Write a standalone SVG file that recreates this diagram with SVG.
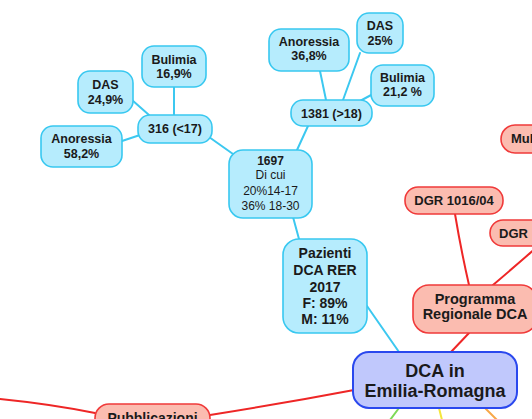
<svg xmlns="http://www.w3.org/2000/svg" width="532" height="419" viewBox="0 0 532 419">
<style>
  .cy rect{fill:#b6ecfd;stroke:#38c8f0;stroke-width:1.6}
  .rd rect{fill:#fbbcb0;stroke:#f03a3a;stroke-width:1.6}
  .ct rect{fill:#c0c8fc;stroke:#2a48ee;stroke-width:2}
  text{font-family:"Liberation Sans",Arial,sans-serif;fill:#1a1a1a;text-anchor:middle}
  .b{font-weight:bold}
  .s{font-size:12.5px;font-weight:bold}
  .n{font-size:12px}
  .c{fill:none;stroke-width:2;stroke-linecap:round}
  .lc{stroke:#3cc8f0}
  .lr{stroke:#ee2626}
</style>
<g id="connectors">
  <line class="c lc" x1="174" y1="87" x2="174" y2="115"/>
  <line class="c lc" x1="132" y1="100" x2="149" y2="115"/>
  <line class="c lc" x1="122" y1="141" x2="140" y2="135"/>
  <line class="c lc" x1="209" y1="137" x2="233" y2="154"/>
  <line class="c lc" x1="320" y1="71" x2="326" y2="100"/>
  <line class="c lc" x1="360" y1="53" x2="343" y2="100"/>
  <line class="c lc" x1="373" y1="94" x2="360" y2="101"/>
  <line class="c lc" x1="308" y1="126" x2="297" y2="150"/>
  <line class="c lc" x1="293" y1="217" x2="299" y2="239"/>
  <line class="c lc" x1="367" y1="306" x2="399" y2="352"/>
  <path class="c lr" d="M455,214 Q461,250 469,285"/>
  <path class="c lr" d="M545,240 Q520,262 493,285"/>
  <line class="c lr" x1="469" y1="333" x2="451" y2="352"/>
  <path class="c lr" d="M354,390 Q280,404 210,415"/>
  <path class="c lr" d="M0,399 Q50,404 95,413"/>
  <line class="c" stroke="#7ed957" x1="399" y1="408" x2="390" y2="420"/>
  <line class="c" stroke="#f4e63c" x1="439" y1="408" x2="442" y2="420"/>
  <line class="c" stroke="#f7a848" x1="485" y1="408" x2="497" y2="420"/>
</g>
<g id="n-bulimia-17" class="cy">
  <rect x="142" y="46" width="64" height="41" rx="12"/>
  <text class="s" x="174" y="64">Bulimia</text>
  <text class="s" x="174" y="78">16,9%</text>
</g>
<g id="n-das-17" class="cy">
  <rect x="78" y="71" width="55" height="42" rx="12"/>
  <text class="s" x="105.5" y="89">DAS</text>
  <text class="s" x="105.5" y="104">24,9%</text>
</g>
<g id="n-anoressia-17" class="cy">
  <rect x="41" y="126" width="81" height="41" rx="12"/>
  <text class="s" x="81.5" y="143">Anoressia</text>
  <text class="s" x="81.5" y="158">58,2%</text>
</g>
<g id="n-316" class="cy">
  <rect x="138" y="115" width="74" height="28" rx="12"/>
  <text class="s" x="175" y="133">316 (&lt;17)</text>
</g>
<g id="n-anoressia-18" class="cy">
  <rect x="269" y="29" width="80" height="42" rx="12"/>
  <text class="s" x="309" y="46">Anoressia</text>
  <text class="s" x="309" y="60">36,8%</text>
</g>
<g id="n-das-18" class="cy">
  <rect x="357" y="13" width="46" height="40" rx="12"/>
  <text class="s" x="380" y="30">DAS</text>
  <text class="s" x="380" y="45">25%</text>
</g>
<g id="n-bulimia-18" class="cy">
  <rect x="371" y="65" width="63" height="41" rx="12"/>
  <text class="s" x="402.5" y="82">Bulimia</text>
  <text class="s" x="402.5" y="96">21,2 %</text>
</g>
<g id="n-1381" class="cy">
  <rect x="291" y="100" width="81" height="26" rx="12"/>
  <text class="s" x="331.5" y="118">1381 (&gt;18)</text>
</g>
<g id="n-1697" class="cy">
  <rect x="229" y="150" width="83" height="68" rx="14"/>
  <text class="n b" x="270.5" y="165">1697</text>
  <text class="n" x="270.5" y="179">Di cui</text>
  <text class="n" x="270.5" y="195">20%14-17</text>
  <text class="n" x="270.5" y="210">36% 18-30</text>
</g>
<g id="n-pazienti" class="cy">
  <rect x="283" y="239" width="84" height="94" rx="16"/>
  <text class="b" font-size="14" x="325" y="258">Pazienti</text>
  <text class="b" font-size="14" x="325" y="275">DCA RER</text>
  <text class="b" font-size="14" x="325" y="292">2017</text>
  <text class="b" font-size="14" x="325" y="308">F: 89%</text>
  <text class="b" font-size="14" x="325" y="324">M: 11%</text>
</g>
<g id="n-mul" class="rd">
  <rect x="501" y="125" width="70" height="28" rx="14"/>
  <text class="b" font-size="13" x="511" y="143" text-anchor="start" style="text-anchor:start">Mul</text>
</g>
<g id="n-dgr1016" class="rd">
  <rect x="405" y="187" width="98" height="27" rx="13"/>
  <text class="b" font-size="13" x="454" y="205">DGR 1016/04</text>
</g>
<g id="n-dgr" class="rd">
  <rect x="490" y="220" width="80" height="26" rx="13"/>
  <text class="b" font-size="13" x="499" y="238" style="text-anchor:start">DGR</text>
</g>
<g id="n-programma" class="rd">
  <rect x="413" y="285" width="124" height="48" rx="16"/>
  <text class="b" font-size="14.5" x="475" y="304">Programma</text>
  <text class="b" font-size="14.5" x="475" y="319">Regionale DCA</text>
</g>
<g id="n-pubblicazioni" class="rd">
  <rect x="95" y="404" width="115" height="36" rx="14"/>
  <text class="b" font-size="14" x="152.5" y="423">Pubblicazioni</text>
</g>
<g id="n-dca" class="ct">
  <rect x="353" y="352" width="164" height="56" rx="16"/>
  <text class="b" font-size="18" x="435" y="377">DCA in</text>
  <text class="b" font-size="18" x="435" y="397">Emilia-Romagna</text>
</g>
</svg>
